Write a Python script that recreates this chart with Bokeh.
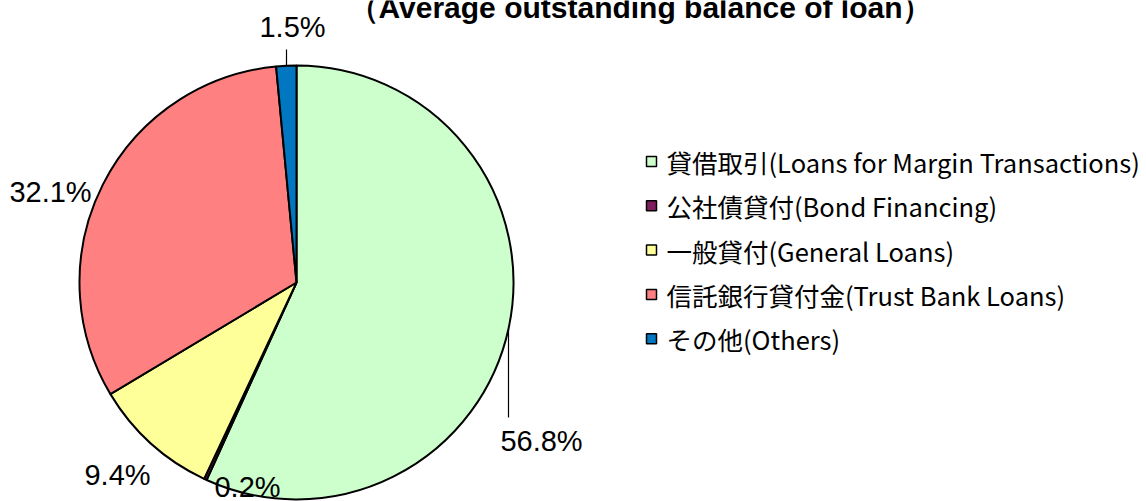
import math
from bokeh.plotting import figure
from bokeh.models import Range1d, ColumnDataSource
from bokeh.core.properties import value
from bokeh.embed import file_html
from bokeh.resources import INLINE

# ---- data ----
categories = ["貸借取引(Loans for Margin Transactions)",
              "公社債貸付(Bond Financing)",
              "一般貸付(General Loans)",
              "信託銀行貸付金(Trust Bank Loans)",
              "その他(Others)"]
shares = [56.8, 0.2, 9.4, 32.1, 1.5]
labels = ["56.8%", "0.2%", "9.4%", "32.1%", "1.5%"]
colors = ["#CCFFCC", "#7F1F5F", "#FFFF99", "#FF8080", "#0077C0"]
title = "（Average outstanding balance of loan）"

# ---- layout (screen px inside plot) ----
W, H = 1146, 501
cx, cy, R = 296, 219, 217
# label centre offsets from pie centre (dx, dy) in px
label_off = [(245, -158), (-49, -204), (-179, -192), (-246, 91), (-4, 256)]
# leader lines: (x offset from centre, end dy)
leaders = {0: (212, -135), 4: (-10, 233)}

p = figure(width=W, height=H, output_backend="svg", toolbar_location=None,
           x_range=Range1d(0, W), y_range=Range1d(0, H),
           min_border=0, outline_line_color=None)
p.axis.visible = False
p.grid.visible = False
p.background_fill_color = "white"
p.border_fill_color = "white"

total = sum(shares)
starts, ends = [], []
cum = 0.0
for s in shares:
    c0 = cum / total
    cum += s
    c1 = cum / total
    # clockwise from 12 o'clock
    starts.append(math.radians(90 - 360 * c1))
    ends.append(math.radians(90 - 360 * c0))

src = ColumnDataSource(dict(start=starts, end=ends, color=colors, cat=categories))
p.wedge(x=cx, y=cy, radius=R, start_angle="start", end_angle="end",
        fill_color="color", line_color="black", line_width=2, source=src)

# leader lines
for i, (dx, ey) in leaders.items():
    sy = math.sqrt(R * R - dx * dx) * (1 if ey > 0 else -1)
    p.line(x=[cx + dx, cx + dx], y=[cy + sy, cy + ey], line_color="black", line_width=1.2)

# percentage labels
p.text(x=[cx + o[0] for o in label_off], y=[cy + o[1] for o in label_off], text=labels,
       text_align="center", text_baseline="middle",
       text_font=value("Liberation Sans"), text_font_size="29px", text_color="black")

# legend (manual)
lx, ly0, pitch = 651, 340, 44.3
ys = [ly0 - i * pitch for i in range(len(categories))]
p.scatter(x=[lx] * len(categories), y=ys, marker="square", size=10,
          fill_color=colors, line_color="black", line_width=1.5)
p.text(x=[lx + 15] * len(categories), y=ys, text=categories,
       text_align="left", text_baseline="middle",
       text_font=value("Noto Sans CJK JP"), text_font_size="25.5px", text_color="black")

# title (partially cut at top, as in original)
p.text(x=[640], y=[494], text=[title], text_align="center", text_baseline="alphabetic",
       text_font=value("Liberation Sans"), text_font_style="bold",
       text_font_size="30px", text_color="black")

open("out.html", "w").write(file_html(p, INLINE))
